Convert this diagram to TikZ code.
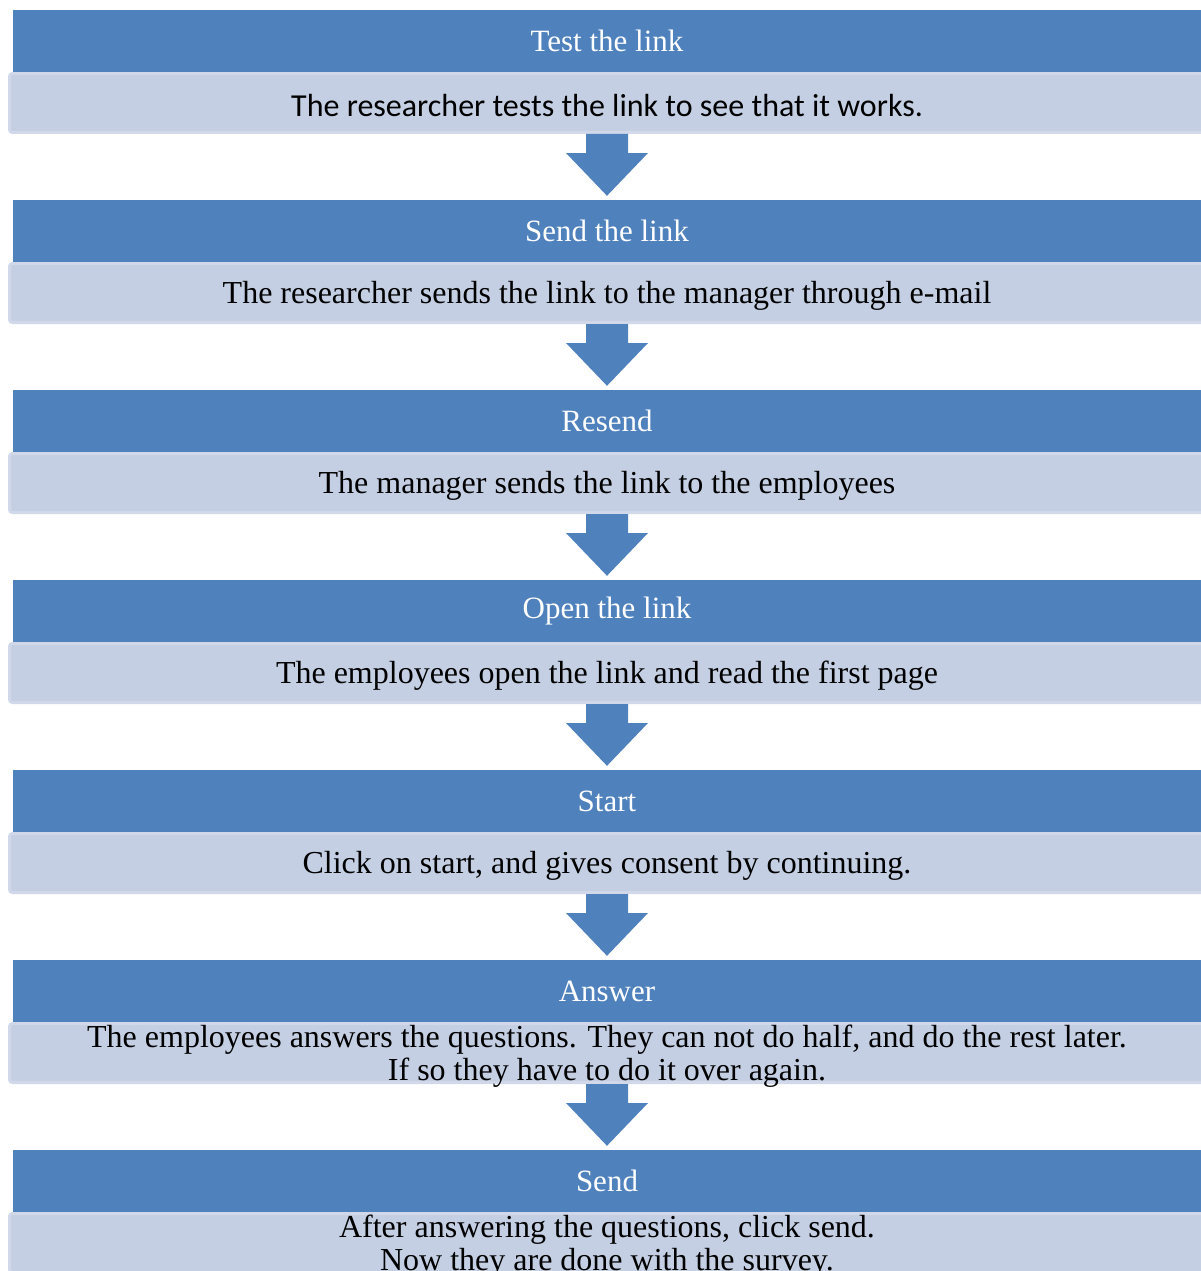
\documentclass[tikz,border=0pt]{standalone}
\usepackage{fontspec}
\setmainfont{Liberation Serif}
\newfontfamily\calibri{Carlito}
\usetikzlibrary{calc}

\definecolor{barblue}{RGB}{79,129,189}
\definecolor{panelblue}{RGB}{196,207,227}
\definecolor{paneledge}{RGB}{208,216,234}

\tikzset{
	stagetitle/.style={fill=barblue,text=white,minimum width=1188pt,minimum height=62pt,inner sep=0pt,font=\fontsize{31}{32}\selectfont},
	stagebody/.style={fill=panelblue,draw=paneledge,line width=3pt,rounded corners=3pt,minimum width=1195pt,minimum height=59pt,inner sep=0pt},
	stagetext/.style={inner sep=0pt,align=center,font=\fontsize{32}{33}\selectfont},
	flowarrow/.style={fill=barblue}
}

\begin{document}
\begin{tikzpicture}[x=1pt,y=-1pt]
	\useasboundingbox (0,0) rectangle (1201,1271);
	\clip (0,0) rectangle (1201,1271);
	% the seven steps, each a title bar over a text panel
	\foreach \i/\head/\text in {
		1/Test the link/{\calibri The researcher tests the link to see that it works.},
		2/Send the link/{The researcher sends the link to the manager through e-mail},
		3/Resend/{The manager sends the link to the employees},
		4/Open the link/{The employees open the link and read the first page},
		5/Start/{Click on start, and gives consent by continuing.},
		6/Answer/{The employees answers the questions. They can not do half, and do the rest later.\\ If so they have to do it over again.},
		7/Send/{After answering the questions, click send.\\ Now they are done with the survey.}}{
		\node[stagebody] (b\i) at (607,{103+190*(\i-1)}) {};
		\node[stagetext] (x\i) at ($(b\i)+(0,3)$) {\text};
		\node[stagetitle] (t\i) at (607,{41+190*(\i-1)}) {\head};
	}
	% block arrows between the steps
	\foreach \i/\j in {1/2,2/3,3/4,4/5,5/6,6/7}{
		\fill[flowarrow] ($(b\i.south)+(-21,0)$) -- ++(0,19) -- ++(-20,0)
			-- ($(t\j.north)+(0,-4)$) -- ($(b\i.south)+(41,19)$)
			-- ++(-20,0) -- ++(0,-19) -- cycle;
	}
\end{tikzpicture}
\end{document}
